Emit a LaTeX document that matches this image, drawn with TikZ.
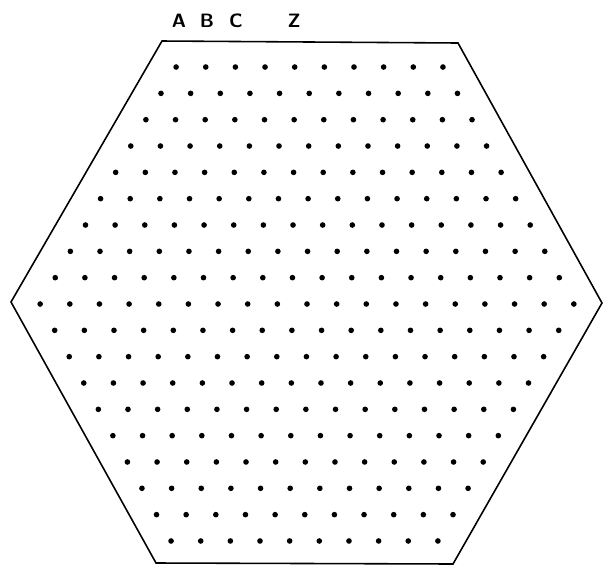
\documentclass[tikz,border=0pt]{standalone}
\usepackage{tikz}
\begin{document}
\begin{tikzpicture}[x=0.02cm,y=-0.02cm]
	\useasboundingbox (0,0) rectangle (603,566);
	\def\hexagon{ (162,41) -- (458,43) -- (602,303) -- (453,564) -- (156,563) -- (11,302) -- cycle};
	\draw[line width=0.9pt] \hexagon;
	
	% lattice of points, 19 rows
	\foreach \r in {-9,...,9} {
		\pgfmathtruncatemacro{\n}{18-abs(\r)}
		\foreach \k in {0,...,\n} {
			\fill[black] ({307-0.28*\r+29.65*(\k-\n/2)},{304+26.33*\r}) circle (1.6pt);
		}
	}
	
	% column labels
	\tikzset{collabel/.style={font=\sffamily\bfseries\fontsize{11}{13}\selectfont}}
	\node[collabel] (A) at (179,21) {A};
	\node[collabel] (B) at (207,21) {B};
	\node[collabel] (C) at (236,21) {C};
	\node[collabel] (Z) at (294,21) {Z};
\end{tikzpicture}
\end{document}
